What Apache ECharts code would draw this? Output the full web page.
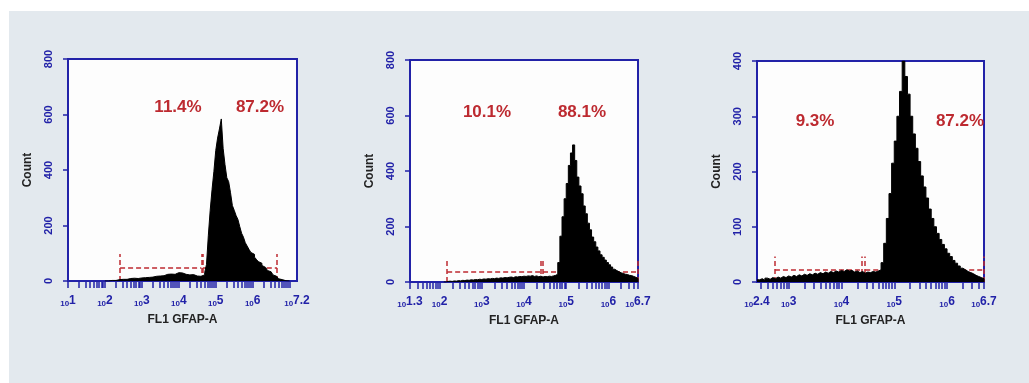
<!DOCTYPE html>
<html>
<head>
<meta charset="utf-8">
<title>FL1 GFAP-A histograms</title>
<script src="https://cdn.jsdelivr.net/npm/echarts@6/dist/echarts.min.js"></script>
<style>
  html, body { margin: 0; padding: 0; background: #fff; }
  #bg { position: absolute; left: 9px; top: 11px; right: 0; bottom: 0; background: #e3e9ee; }
  #chart { position: absolute; left: 0; top: 0; width: 1029px; height: 383px; }
</style>
</head>
<body>
<div id="bg"></div>
<div id="chart"></div>
<script>
// histogram bins are in log10 units, all the same width
const binWidth = 0.05;

// x axis range (log10 of FL1 intensity) and labelled decades
const xMin = [1, 1.3, 2.4];
const xMax = [7.2, 6.7, 6.7];
const xLabels1 = [1, 2, 3, 4, 5, 6, 7.2];
const xLabels2 = [1.3, 2, 3, 4, 5, 6, 6.7];
const xLabels3 = [2.4, 3, 4, 5, 6, 6.7];

// y axis
const yMax = [800, 800, 400];
const yStep = [200, 200, 100];

// counts per bin
const binStart1 = 2.0;
const counts1 = [
  0, 0, 0, 2, 3, 2, 4, 5, 4, 6,
  7, 6, 8, 9, 8, 10, 11, 9, 12, 11,
  13, 12, 14, 13, 15, 14, 16, 17, 15, 18,
  20, 19, 22, 24, 21, 25, 27, 24, 28, 30,
  26, 29, 27, 24, 25, 22, 21, 23, 19, 18,
  20, 17, 19, 22, 30, 60, 165, 255, 330, 395,
  470, 515, 548, 584, 478, 420, 372, 358, 318, 272,
  255, 236, 222, 196, 172, 158, 138, 126, 114, 103,
  96, 86, 78, 70, 64, 56, 49, 44, 38, 33,
  27, 22, 17, 12, 8, 5, 3, 1, 0, 0
];

const binStart2 = 2.1;
const counts2 = [
  0, 2, 3, 2, 4, 3, 5, 4, 6, 5,
  7, 6, 8, 7, 9, 8, 10, 9, 11, 10,
  12, 11, 13, 12, 14, 13, 15, 14, 16, 15,
  17, 18, 16, 19, 18, 20, 19, 21, 20, 22,
  21, 23, 20, 22, 19, 21, 18, 20, 19, 21,
  20, 22, 24, 28, 70, 165, 235, 300, 355, 420,
  465, 494, 438, 378, 346, 318, 274, 246, 212, 188,
  162, 145, 126, 112, 98, 89, 79, 70, 62, 54,
  46, 41, 37, 33, 31, 28, 27, 24, 23, 20,
  17, 13
];

const binStart3 = 2.4;
const counts3 = [
  4, 6, 3, 7, 5, 8, 6, 9, 7, 10,
  8, 11, 9, 12, 10, 13, 11, 14, 12, 15,
  13, 16, 14, 17, 15, 18, 16, 19, 17, 20,
  18, 21, 19, 22, 20, 21, 18, 20, 17, 19,
  16, 18, 17, 19, 18, 20, 22, 35, 70, 115,
  160, 215, 255, 300, 345, 400, 372, 340, 300, 268,
  242, 218, 192, 172, 152, 132, 115, 100, 88, 77,
  68, 60, 52, 46, 39, 34, 29, 25, 22, 19,
  17, 15, 12, 10, 8, 6
];

// gates: [from, to] in log10 units, dashed level and height of the end markers
const gates1 = [[2.41, 4.61], [4.65, 6.66]];
const gates2 = [[2.18, 4.39], [4.45, 6.7]];
const gates3 = [[2.74, 4.38], [4.45, 6.7]];
const gateLevel = [47, 36, 22];
const gateTop = [97, 86, 46];

const leftPct = ['11.4%', '10.1%', '9.3%'];
const rightPct = ['87.2%', '88.1%', '87.2%'];

const blue = '#2222a8';
const red = '#bd2a30';
const font = 'Liberation Sans, Arial, sans-serif';

const grids = [
  { left: 68, top: 59, width: 229, height: 222 },
  { left: 410, top: 60, width: 228, height: 222 },
  { left: 757, top: 61, width: 227, height: 221 }
];
const starts = [binStart1, binStart2, binStart3];
const counts = [counts1, counts2, counts3];
const xLabels = [xLabels1, xLabels2, xLabels3];
const gates = [gates1, gates2, gates3];

// log decade tick positions (1..9 x 10^d) inside the range
function logTicks(min, max) {
  const out = [];
  for (let d = Math.floor(min); d <= Math.ceil(max); d++) {
    for (let k = 1; k <= 9; k++) {
      const v = d + Math.log10(k);
      if (v >= min - 1e-9 && v <= max + 1e-9) out.push(v);
    }
  }
  return out;
}

function fmtExp(v) {
  return Number.isInteger(v) ? String(v) : v.toFixed(1);
}

const option = {
  animation: false,
  backgroundColor: 'transparent',
  grid: grids.map(g => Object.assign({
    show: true,
    backgroundColor: '#fdfdfd',
    borderColor: blue,
    borderWidth: 2,
    containLabel: false,
    outerBoundsMode: 'none'
  }, g)),
  xAxis: [],
  yAxis: [],
  series: [],
  graphic: []
};

for (let p = 0; p < 3; p++) {
  option.xAxis.push({
    type: 'value',
    gridIndex: p,
    min: xMin[p],
    max: xMax[p],
    name: 'FL1 GFAP-A',
    nameLocation: 'middle',
    nameGap: 33,
    nameTextStyle: { fontFamily: font, fontWeight: 'bold', fontSize: 12, color: '#222' },
    splitLine: { show: false },
    axisLine: { onZero: false, lineStyle: { color: blue, width: 2 } },
    axisTick: {
      customValues: logTicks(xMin[p], xMax[p]),
      length: 7,
      lineStyle: { color: blue, width: 1.5 }
    },
    axisLabel: {
      customValues: xLabels[p],
      margin: 12,
      formatter: v => '{b|10}{e|' + fmtExp(v) + '}',
      rich: {
        b: { fontFamily: font, fontWeight: 'bold', fontSize: 8, color: blue, padding: [7, 0, 0, 0] },
        e: { fontFamily: font, fontWeight: 'bold', fontSize: 12, color: blue }
      }
    }
  });
  option.yAxis.push({
    type: 'value',
    gridIndex: p,
    min: 0,
    max: yMax[p],
    interval: yStep[p],
    name: 'Count',
    nameLocation: 'middle',
    nameRotate: 90,
    nameGap: 34,
    nameTextStyle: { fontFamily: font, fontWeight: 'bold', fontSize: 12, color: '#222' },
    splitLine: { show: false },
    axisLine: { show: true, lineStyle: { color: blue, width: 2 } },
    axisTick: { show: true, length: 5, lineStyle: { color: blue, width: 1.5 } },
    axisLabel: {
      rotate: 90,
      margin: 14,
      fontFamily: font,
      fontWeight: 'bold',
      fontSize: 11,
      color: blue
    }
  });

  const data = counts[p].map((c, i) => [starts[p] + i * binWidth, c]);
  data.push([starts[p] + counts[p].length * binWidth, 0]);
  option.series.push({
    type: 'line',
    xAxisIndex: p,
    yAxisIndex: p,
    step: 'end',
    showSymbol: false,
    z: 3,
    data: data,
    lineStyle: { color: '#000', width: 1 },
    areaStyle: { color: '#000', opacity: 1 }
  });

  const segs = [];
  gates[p].forEach(g => {
    segs.push({ coords: [[g[0], gateLevel[p]], [g[1], gateLevel[p]]] });
    segs.push({ coords: [[g[0], 0], [g[0], gateTop[p]]] });
    segs.push({ coords: [[g[1], 0], [g[1], gateTop[p]]] });
  });
  option.series.push({
    type: 'lines',
    coordinateSystem: 'cartesian2d',
    xAxisIndex: p,
    yAxisIndex: p,
    z: 2,
    silent: true,
    data: segs,
    lineStyle: { color: red, width: 1.5, type: [5, 3], opacity: 1 }
  });
}

// gate percentages
const pctPos = [
  [[178, 107], [260, 107]],
  [[487, 112], [582, 112]],
  [[815, 121], [960, 121]]
];
for (let p = 0; p < 3; p++) {
  [leftPct[p], rightPct[p]].forEach((t, j) => {
    option.graphic.push({
      type: 'text',
      x: pctPos[p][j][0],
      y: pctPos[p][j][1],
      z: 10,
      style: {
        text: t,
        fill: red,
        font: 'bold 17px ' + font,
        textAlign: 'center',
        textVerticalAlign: 'middle'
      }
    });
  });
}

const chart = echarts.init(document.getElementById('chart'));
chart.setOption(option);
</script>
</body>
</html>
